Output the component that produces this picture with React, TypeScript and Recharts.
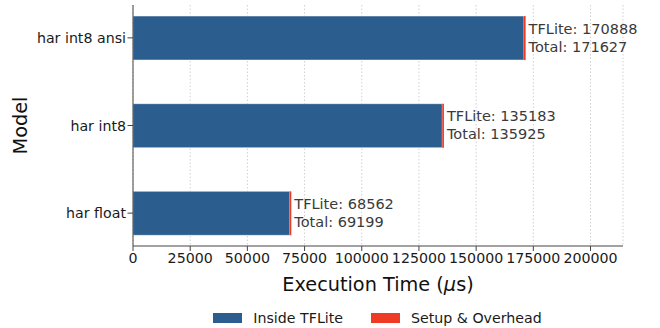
import React from 'react';
import { BarChart, Bar, XAxis, YAxis, CartesianGrid, LabelList } from 'recharts';

const models = ['har int8 ansi', 'har int8', 'har float'];
const tfliteTimes = [170888, 135183, 68562];
const totalTimes = [171627, 135925, 69199];
const xTicks = [0, 25000, 50000, 75000, 100000, 125000, 150000, 175000, 200000];

const BLUE = '#2c5d8f';
const RED = '#ef3b24';
const FONT = '"DejaVu Sans", sans-serif';

const data = models.map((model, i) => ({
  pos: i,
  model,
  tflite: tfliteTimes[i],
  overhead: totalTimes[i] - tfliteTimes[i],
  total: totalTimes[i],
}));

const legendItems = [
  { name: 'Inside TFLite', color: BLUE },
  { name: 'Setup & Overhead', color: RED },
];

// two-line annotation to the right of each stacked bar
const TotalLabel = (props: any) => {
  const { x, y, width, height, index } = props;
  const d = data[index];
  const tx = x + width + 3;
  const cy = y + height / 2;
  return (
    <text x={tx} y={cy} fill="#3a3a3a" fontSize={14.5} fontFamily={FONT}>
      <tspan x={tx} y={cy - 4.5}>{`TFLite: ${d.tflite}`}</tspan>
      <tspan x={tx} y={cy + 13.5}>{`Total: ${d.total}`}</tspan>
    </text>
  );
};

const XTitle = (props: any) => {
  const { viewBox } = props;
  const cx = viewBox.x + viewBox.width / 2;
  return (
    <text x={cx} y={viewBox.y + 45} textAnchor="middle" fill="#111" fontSize={19.3} fontFamily={FONT}>
      Execution Time (<tspan fontStyle="italic">μ</tspan>s)
    </text>
  );
};

const YTitle = (props: any) => {
  const { viewBox } = props;
  const cy = viewBox.y + viewBox.height / 2;
  return (
    <text x={20} y={cy} textAnchor="middle" fill="#111" fontSize={19.3} fontFamily={FONT}
      transform={`rotate(-90 20 ${cy})`} dominantBaseline="central">
      Model
    </text>
  );
};

export default function App() {
  return (
    <div style={{ position: 'absolute', left: 0, top: 0, width: 660, height: 328, background: '#fff' }}>
      <BarChart
        width={660}
        height={328}
        data={data}
        layout="vertical"
        margin={{ top: 5, right: 37, bottom: 52, left: 10 }}
      >
        <CartesianGrid horizontal={false} stroke="#d0d0d0" strokeDasharray="1.5 2" />
        <XAxis
          type="number"
          domain={[0, 214200]}
          ticks={xTicks}
          allowDataOverflow
          axisLine={{ stroke: '#444' }}
          tickLine={{ stroke: '#444' }}
          tickSize={5}
          tickMargin={1.5}
          tick={{ fill: '#1a1a1a', fontSize: 14.2, fontFamily: FONT }}
          height={30}
          interval={0}
          label={<XTitle />}
        />
        <YAxis
          type="number"
          dataKey="pos"
          domain={[-0.375, 2.375]}
          ticks={[0, 1, 2]}
          tickFormatter={(v: number) => models[v]}
          width={123}
          axisLine={{ stroke: '#444' }}
          tickLine={{ stroke: '#444' }}
          tickSize={5.5}
          tickMargin={1.5}
          tick={{ fill: '#1a1a1a', fontSize: 14.2, fontFamily: FONT }}
          label={<YTitle />}
        />
        <Bar dataKey="tflite" stackId="t" fill={BLUE} stroke="#ffffff" strokeWidth={0.5} barSize={44} isAnimationActive={false} />
        <Bar dataKey="overhead" stackId="t" fill={RED} barSize={44} isAnimationActive={false}>
          <LabelList dataKey="total" content={<TotalLabel />} />
        </Bar>
      </BarChart>
      <div
        style={{
          position: 'absolute',
          top: 308,
          left: 133,
          width: 489,
          height: 20,
          display: 'flex',
          justifyContent: 'center',
          alignItems: 'center',
          fontFamily: FONT,
          fontSize: 14.2,
          color: '#1a1a1a',
        }}
      >
        {legendItems.map((item, i) => (
          <div key={item.name} style={{ display: 'flex', alignItems: 'center', marginLeft: i ? 28 : 0 }}>
            <span style={{ width: 29, height: 10, background: item.color, marginRight: 11, display: 'inline-block' }} />
            <span>{item.name}</span>
          </div>
        ))}
      </div>
    </div>
  );
}
